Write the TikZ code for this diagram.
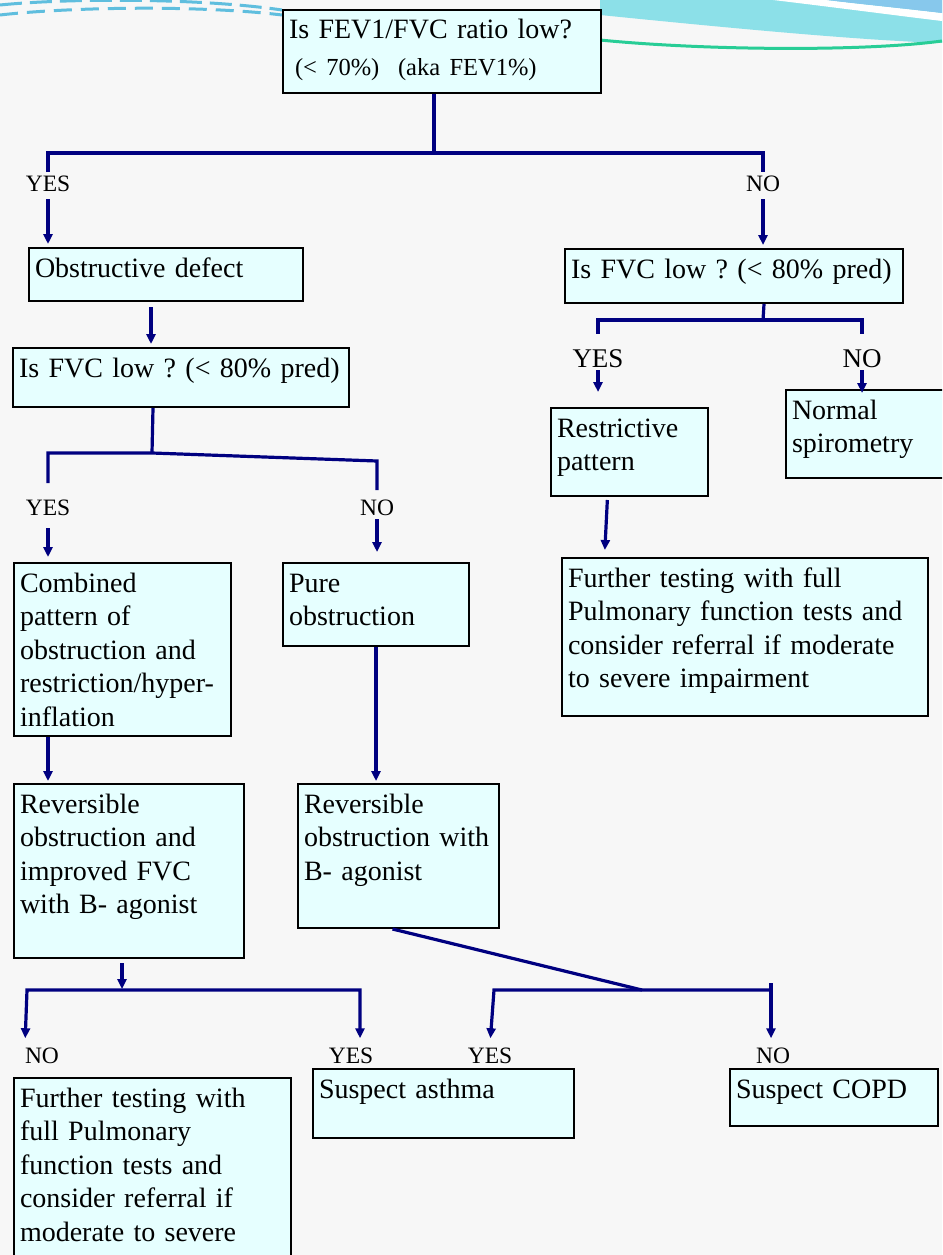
\documentclass[tikz,border=0pt]{standalone}
\usepackage{fontspec}
\setmainfont{Liberation Serif}
\usetikzlibrary{arrows.meta}
\frenchspacing

\definecolor{boxfill}{RGB}{230,255,255}
\definecolor{flowline}{RGB}{0,0,128}
\definecolor{pagebg}{RGB}{247,247,247}
\definecolor{swoosh}{RGB}{140,224,232}
\definecolor{swooshdark}{RGB}{135,200,236}
\definecolor{dashblue}{RGB}{95,190,222}
\definecolor{wavegreen}{RGB}{40,205,150}

\begin{document}
\begin{tikzpicture}[
 x=1pt, y=-1pt,
 >={Triangle[width=9pt,length=10pt]},
 box/.style={rectangle, draw, line width=2pt, fill=boxfill, anchor=north west, align=left, inner xsep=6pt, inner ysep=4pt, text height=25pt, font=\fontsize{28}{33.5}\selectfont},
 lbl/.style={anchor=base, inner sep=3pt, font=\fontsize{23.5}{28}\selectfont},
 lblbig/.style={lbl, font=\fontsize{27}{32}\selectfont},
 line/.style={flowline, line width=3.2pt},
 arrow/.style={line, ->}
]
% page and header waves
\path[use as bounding box, clip] (0,0) rectangle (942,1255);
\fill[pagebg] (0,0) rectangle (942,1255);
\fill[swoosh] (600,0) -- (942,0) -- (942,43) .. controls (850,40) and (700,25) .. (600,15) -- cycle;
\fill[white] (773,0) .. controls (840,8) and (900,16) .. (942,21) -- (942,13) .. controls (900,8) and (850,3) .. (827,0) -- cycle;
\fill[swooshdark] (827,0) -- (942,0) -- (942,13) .. controls (900,8) and (850,3) .. cycle;
\draw[wavegreen, line width=3pt] (600,40) .. controls (700,50) and (860,52) .. (942,41);
\draw[dashblue, line width=3pt, dash pattern=on 22pt off 8pt] (0,5) .. controls (70,-2) and (200,-2) .. (282,10);
\draw[dashblue, line width=3pt, dash pattern=on 18pt off 9pt] (0,15) .. controls (70,7) and (200,5) .. (282,15);

% boxes
\node[box, text width=306pt, text depth=50pt] (ratio) at (282,9) {Is FEV1/FVC ratio low?\\[3pt]{\fontsize{24.5}{29}\selectfont\hspace*{6pt}(< 70\%)\ \ (aka FEV1\%)}};
\node[box, text width=262pt, text depth=20pt] (obst) at (28,247) {Obstructive defect};
\node[box, text width=326pt, text depth=21pt] (fvcR) at (564,248) {Is FVC low ? (< 80\% pred)};
\node[box, text width=324pt, text depth=26pt] (fvcL) at (12,347) {Is FVC low ? (< 80\% pred)};
\node[box, text width=145pt, text depth=55pt] (restr) at (550,407) {Restrictive\\pattern};
\node[box, text width=153pt, text depth=55pt] (normal) at (785,389) {Normal\\spirometry};
\node[box, text width=205pt, text depth=140pt] (comb) at (13,562) {Combined\\pattern of\\obstruction and\\restriction/hyper-\\inflation};
\node[box, text width=174pt, text depth=50pt] (pure) at (282,562) {Pure\\obstruction};
\node[box, text width=354pt, text depth=125pt] (furtherR) at (561,557) {Further testing with full\\Pulmonary function tests and\\consider referral if moderate\\to severe impairment};
\node[box, text width=218pt, text depth=141pt] (revL) at (13,783) {Reversible\\obstruction and\\improved FVC\\with B- agonist};
\node[box, text width=189pt, text depth=111pt] (revR) at (297,783) {Reversible\\obstruction with\\B- agonist};
\node[box, text width=265pt, text depth=197pt] (furtherL) at (13,1077) {Further testing with\\full Pulmonary\\function tests and\\consider referral if\\moderate to severe};
\node[box, text width=249pt, text depth=36pt] (asthma) at (312,1068) {Suspect asthma};
\node[box, text width=196pt, text depth=24pt] (copd) at (729,1068) {Suspect COPD};

% yes / no labels
\node[lbl] (yes1) at (48,191) {YES};
\node[lbl] (no1) at (763,191) {NO};
\node[lblbig] (yes2) at (598,367) {YES};
\node[lblbig] (no2) at (862,367) {NO};
\node[lbl] (yes3) at (48,515) {YES};
\node[lbl] (no3) at (377,515) {NO};
\node[lbl] (no4) at (42,1063) {NO};
\node[lbl] (yes4) at (351,1063) {YES};
\node[lbl] (yes5) at (490,1063) {YES};
\node[lbl] (no5) at (773,1063) {NO};

\coordinate (split1) at (434,153);
\coordinate (split2) at (763,320);
\coordinate (split3) at (152,453);
\coordinate (split3r) at (377,461);
\coordinate (split4) at (122,990);
\coordinate (split4l) at (27,990);
\coordinate (split4r) at (360,990);
\coordinate (split5) at (642,990);
\coordinate (split5l) at (494,990);
\coordinate (split5r) at (771,990);

% connectors
\draw[line] (ratio.south -| split1) -- (split1);
\draw[line] (yes1.north) |- (split1) -| (no1.north);
\draw[arrow, shorten <=5pt, shorten >=3pt] (yes1.south) -- (obst.north -| yes1);
\draw[arrow, shorten <=5pt, shorten >=3pt] (no1.south) -- (fvcR.north -| no1);

\draw[arrow, shorten <=5pt, shorten >=3pt] ([xshift=-15pt]obst.south) -- ([xshift=-15pt]obst.south |- fvcL.north);

\draw[line] ([xshift=30pt]fvcR.south) -- (split2);
\draw[line, shorten <=12pt, shorten >=12pt] (yes2.north) |- (split2) -| (no2.north);
\draw[arrow, shorten >=15pt] (yes2.south) -- (restr.north -| yes2);
\draw[arrow, shorten >=-4pt] (no2.south) -- (normal.north -| no2);
\draw[arrow, shorten <=3pt, shorten >=7pt] ([xshift=-22pt]restr.south) -- ([xshift=-25pt]restr.south |- furtherR.north);

\draw[line] ([xshift=-28pt]fvcL.south) -- (split3);
\draw[line, shorten <=13pt, shorten >=6pt] (yes3.north) |- (split3) -- (split3r) -- (split3r |- no3.north);
\draw[arrow, shorten <=10pt, shorten >=5pt] (yes3.south) -- (comb.north -| yes3);
\draw[arrow, shorten <=1pt, shorten >=10pt] (no3.south) -- (pure.north -| no3);

\draw[arrow, shorten >=2pt] (comb.south -| yes3) -- (revL.north -| yes3);
\draw[arrow, shorten >=2pt] (pure.south) -- (revR.north -| pure.south);

\draw[arrow, shorten <=4pt, shorten >=1pt] ([xshift=-7pt]revL.south) -- (split4);
\draw[line, <->, shorten <=6pt, shorten >=6pt] ([xshift=-17pt]no4.north) -- (split4l) -- (split4r) -- (split4r |- yes4.north);

\draw[line] ([xshift=-6pt]revR.south) -- (split5);
\draw[line, <-, shorten <=6pt] (yes5.north) -- (split5l) -- (split5r);
\draw[arrow, shorten >=6pt] ([yshift=7pt]split5r) -- (split5r |- no5.north);
\end{tikzpicture}
\end{document}
